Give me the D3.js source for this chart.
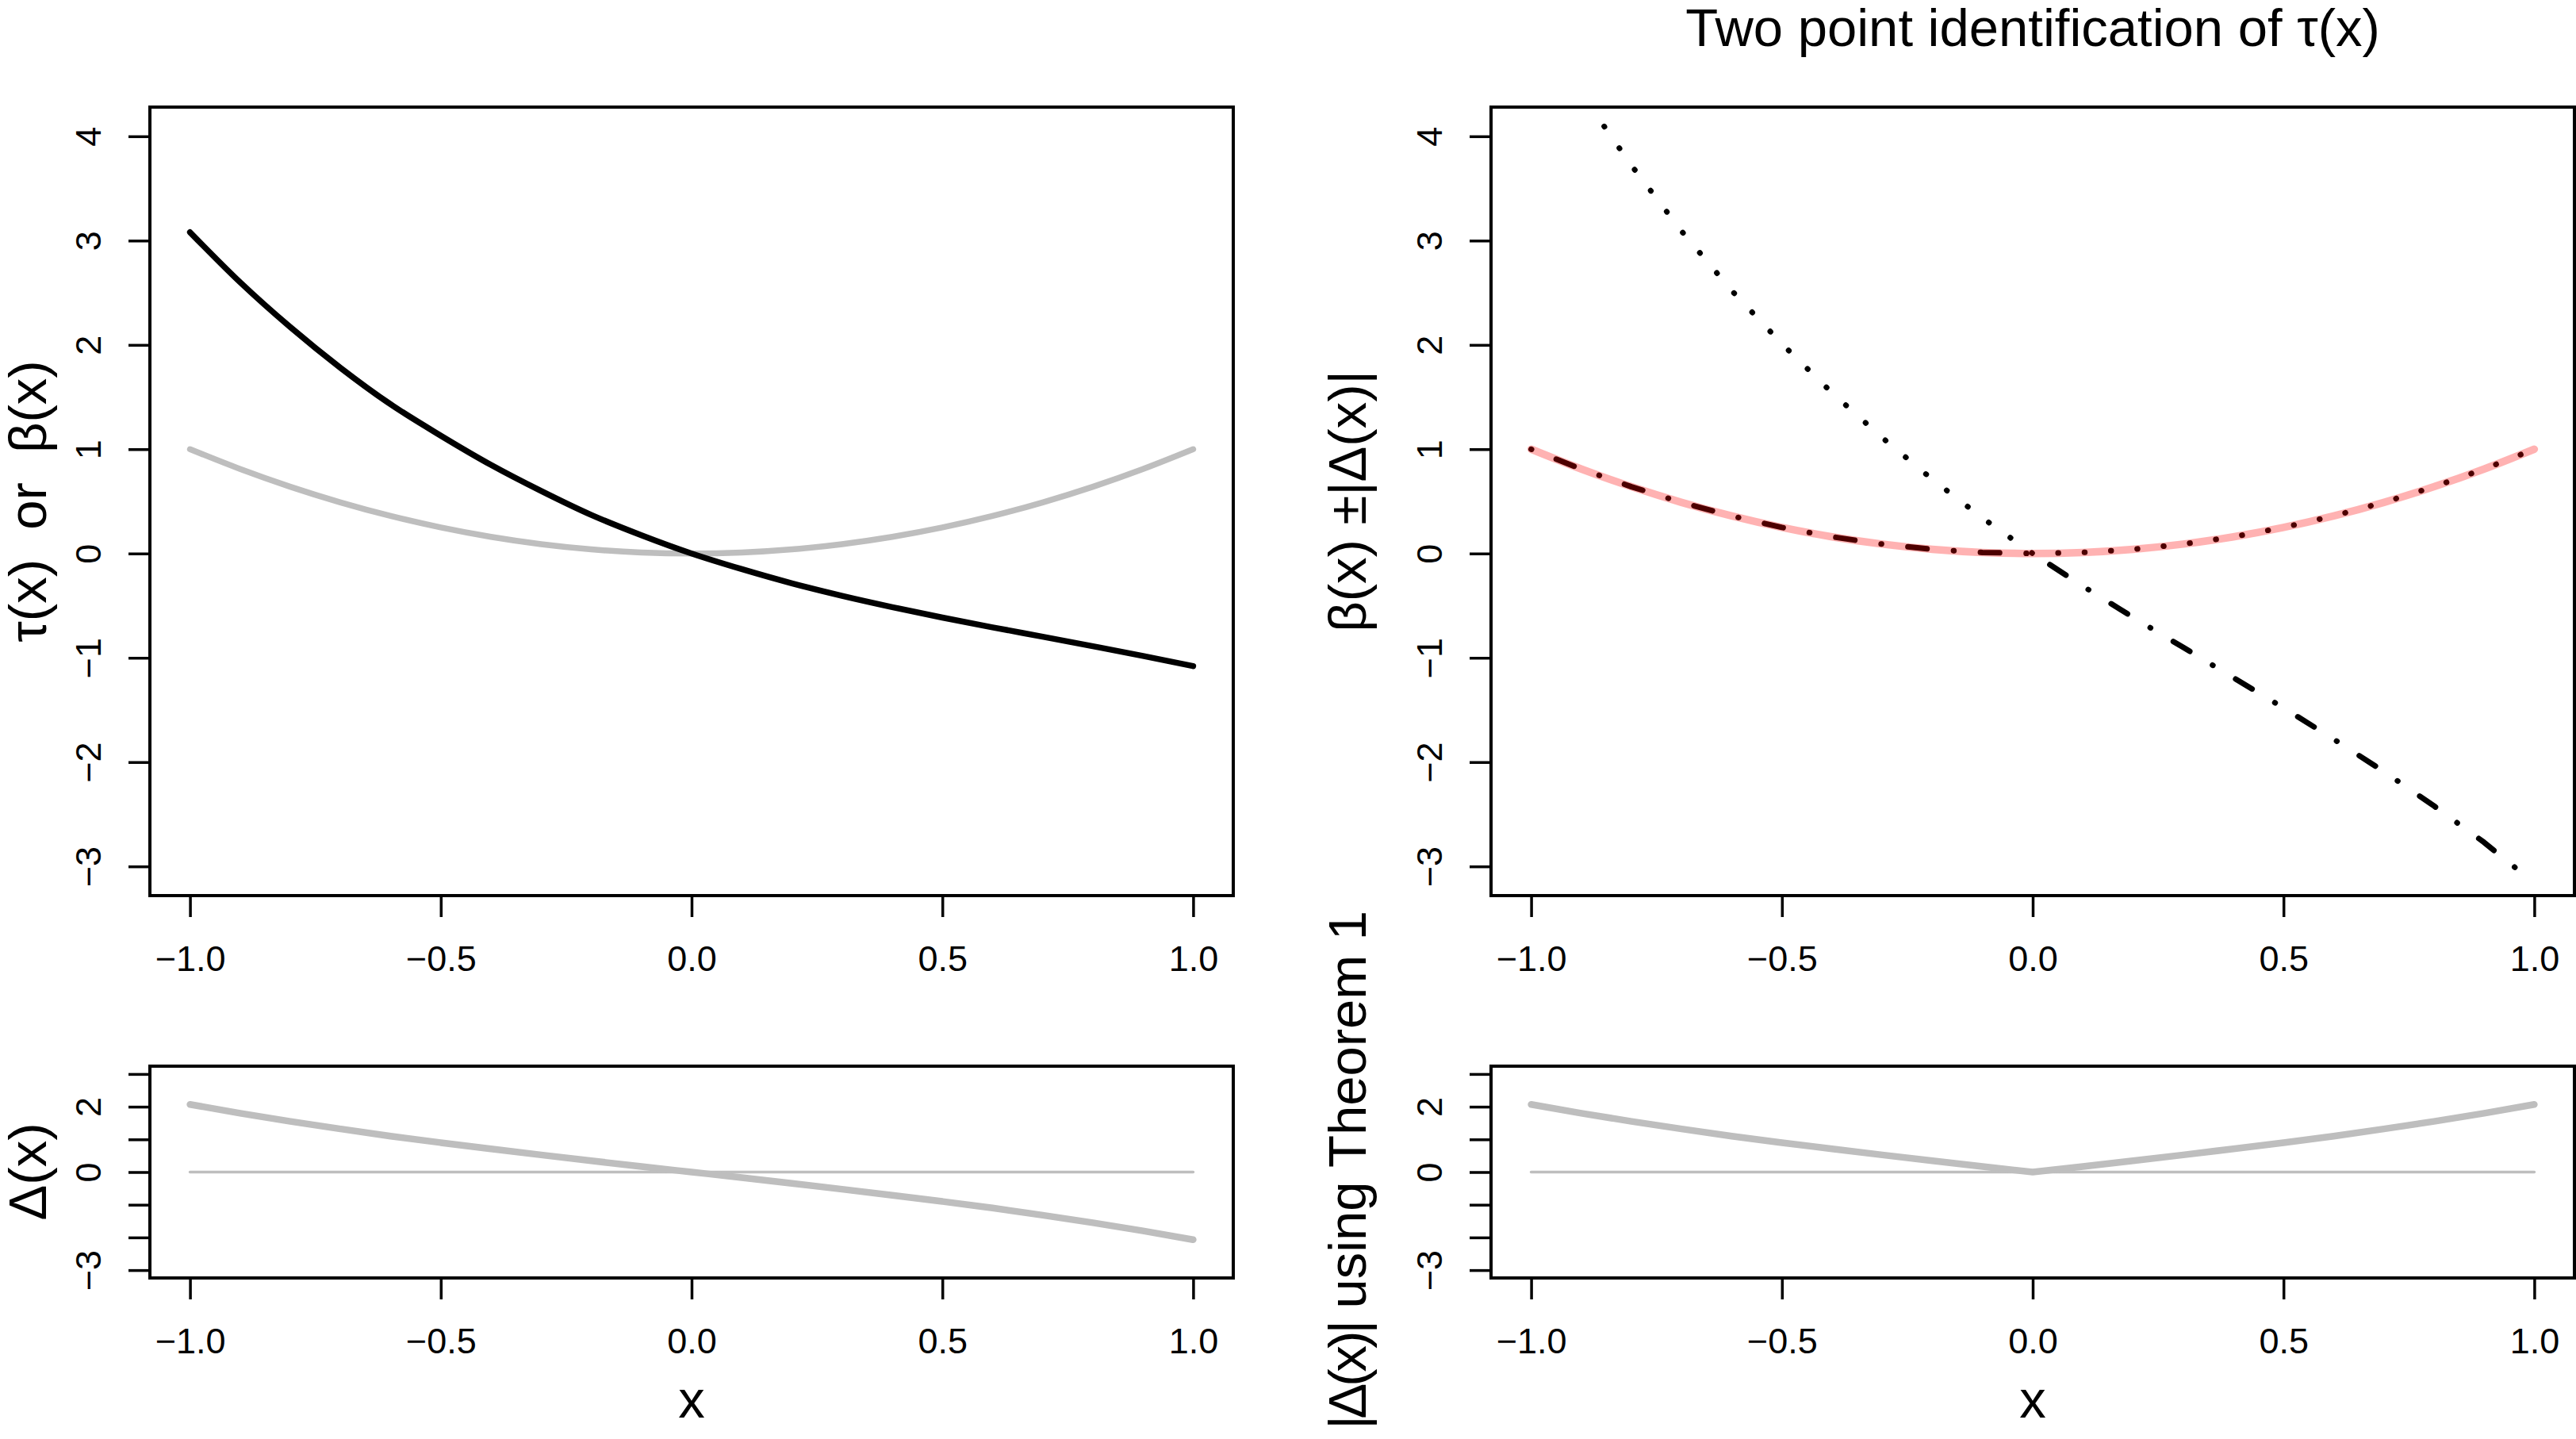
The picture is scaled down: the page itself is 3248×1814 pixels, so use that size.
<!DOCTYPE html>
<html>
<head>
<meta charset="utf-8">
<script src="https://cdn.jsdelivr.net/npm/d3@7"></script>
<style>
  body { margin: 0; background: #fff; }
  svg { display: block; }
  text { font-family: "Liberation Sans", Arial, Helvetica, sans-serif; fill: #000; }
  .lab { white-space: pre; }
</style>
</head>
<body>
<svg id="chart" width="3248" height="1814"></svg>
<script>
// grid of x values the curves were read at
var xs = [-1, -0.9, -0.8, -0.7, -0.6, -0.5, -0.4, -0.3, -0.2, -0.1, 0,
          0.1, 0.2, 0.3, 0.4, 0.5, 0.6, 0.7, 0.8, 0.9, 1];

// top left: tau(x) (black) and beta(x) (grey)
var tauVals = [3.08, 2.60, 2.17, 1.78, 1.43, 1.13, 0.85, 0.60, 0.37, 0.175, 0,
               -0.15, -0.286, -0.406, -0.514, -0.614, -0.708, -0.798, -0.889, -0.982, -1.08];
var betaVals = [1, 0.81, 0.64, 0.49, 0.36, 0.25, 0.16, 0.09, 0.04, 0.01, 0,
                0.01, 0.04, 0.09, 0.16, 0.25, 0.36, 0.49, 0.64, 0.81, 1];

// top right: beta(x) +/- |Delta(x)|
var upperVals = [5.16, 4.41, 3.72, 3.09, 2.52, 2.01, 1.54, 1.11, 0.71, 0.34, 0,
                 0.01, 0.04, 0.09, 0.16, 0.25, 0.36, 0.49, 0.64, 0.81, 1];
var lowerVals = [1, 0.81, 0.64, 0.49, 0.36, 0.25, 0.16, 0.09, 0.04, 0.01, 0,
                 -0.313, -0.612, -0.90, -1.19, -1.48, -1.78, -2.09, -2.42, -2.77, -3.16];

// bottom panels
var deltaVals = [2.07, 1.80, 1.55, 1.32, 1.10, 0.90, 0.71, 0.525, 0.345, 0.17, 0,
                 -0.17, -0.345, -0.525, -0.71, -0.90, -1.10, -1.32, -1.55, -1.80, -2.07];
var absDeltaVals = [2.07, 1.80, 1.55, 1.32, 1.10, 0.90, 0.71, 0.525, 0.345, 0.17, 0,
                    0.17, 0.345, 0.525, 0.71, 0.90, 1.10, 1.32, 1.55, 1.80, 2.07];
var zeroVals = [0, 0, 0, 0, 0, 0, 0, 0, 0, 0, 0, 0, 0, 0, 0, 0, 0, 0, 0, 0, 0];

// ticks
var xTicks = [-1, -0.5, 0, 0.5, 1];
var yTicksTop = [-3, -2, -1, 0, 1, 2, 3, 4];
var yTicksBottom = [-3, -2, -1, 0, 1, 2, 3];
var yLabelsBottom = [-3, 0, 2];

var GREY = '#bebebe';
var PINK = 'rgba(255,0,0,0.3)';
var TICK_FONT = 45;
var LAB_FONT = 67;

var svg = d3.select('#chart');
svg.append('rect').attr('width', 3248).attr('height', 1814).attr('fill', '#fff');

var minus = function(s) { return s.replace('-', '\u2212'); };

//build one panel, returns scales and the group
function makePanel(id, left, top, right, bottom, yDomain, yTicks, yLabels) {
    var x = d3.scaleLinear().domain([-1.08, 1.08]).range([left, right]);
    var y = d3.scaleLinear().domain(yDomain).range([bottom, top]);

    svg.append('clipPath').attr('id', 'clip-' + id)
        .append('rect')
        .attr('x', left).attr('y', top)
        .attr('width', right - left).attr('height', bottom - top);

    var g = svg.append('g');

    // x axis
    var xa = g.append('g')
        .attr('transform', 'translate(0,' + bottom + ')')
        .call(d3.axisBottom(x).tickValues(xTicks).tickSize(27)
            .tickFormat(function(d) { return minus(d3.format('.1f')(d)); }));
    xa.select('.domain').remove();
    xa.selectAll('line').attr('stroke', '#000').attr('stroke-width', 3.5);
    xa.selectAll('text')
        .attr('y', 95).attr('dy', 0)
        .style('font-size', TICK_FONT + 'px')
        .style('font-family', '"Liberation Sans", Arial, sans-serif');

    // y axis, labels rotated like R's las=0
    var ya = g.append('g')
        .attr('transform', 'translate(' + left + ',0)')
        .call(d3.axisLeft(y).tickValues(yTicks).tickSize(27)
            .tickFormat(function(d) {
                return yLabels.indexOf(d) >= 0 ? minus(String(d)) : '';
            }));
    ya.select('.domain').remove();
    ya.selectAll('line').attr('stroke', '#000').attr('stroke-width', 3.5);
    ya.selectAll('text')
        .attr('x', 0).attr('dy', 0)
        .attr('text-anchor', 'middle')
        .attr('transform', 'translate(-62,0) rotate(-90)')
        .style('font-size', TICK_FONT + 'px')
        .style('font-family', '"Liberation Sans", Arial, sans-serif');

    var plot = g.append('g').attr('clip-path', 'url(#clip-' + id + ')');

    return { x: x, y: y, g: g, plot: plot, box: [left, top, right, bottom] };
}

function drawBox(p) {
    p.g.append('rect')
        .attr('x', p.box[0]).attr('y', p.box[1])
        .attr('width', p.box[2] - p.box[0]).attr('height', p.box[3] - p.box[1])
        .attr('fill', 'none').attr('stroke', '#000').attr('stroke-width', 4);
}

function addLine(p, vals, opts) {
    var line = d3.line()
        .x(function(d, i) { return p.x(xs[i]); })
        .y(function(d) { return p.y(d); })
        .curve(opts.curve || d3.curveLinear);
    return p.plot.append('path')
        .attr('d', line(vals))
        .attr('fill', 'none')
        .attr('stroke', opts.color)
        .attr('stroke-width', opts.width)
        .attr('stroke-linecap', 'round')
        .attr('stroke-linejoin', 'round')
        .attr('stroke-dasharray', opts.dash || null);
}

// shift a dash pattern so that a dot lands near the given data point
function phaseDot(path, p, xv, yv, period) {
    var node = path.node();
    var total = node.getTotalLength();
    var tx = p.x(xv), ty = p.y(yv);
    var best = 0, bestD = Infinity;
    for (var s = 0; s <= total; s += 0.5) {
        var pt = node.getPointAtLength(s);
        var d = (pt.x - tx) * (pt.x - tx) + (pt.y - ty) * (pt.y - ty);
        if (d < bestD) { bestD = d; best = s; }
    }
    var off = ((0.25 - best) % period + period) % period;
    path.attr('stroke-dashoffset', off);
}

function yLabel(text, x, y, anchor) {
    return svg.append('text')
        .attr('class', 'lab')
        .attr('transform', 'translate(' + x + ',' + y + ') rotate(-90)')
        .attr('text-anchor', anchor || 'middle')
        .style('font-size', LAB_FONT + 'px')
        .text(text);
}

var SHIFT = 1691;

// top left
var tl = makePanel('tl', 189, 135, 1555, 1129, [-3.28, 4.28], yTicksTop, yTicksTop);
addLine(tl, betaVals, { color: GREY, width: 7.5, curve: d3.curveMonotoneX });
addLine(tl, tauVals, { color: '#000', width: 7.5, curve: d3.curveMonotoneX });
drawBox(tl);
yLabel('\u03c4(x)  or  \u03b2(x)', 58, 632);

// top right
var tr = makePanel('tr', 189 + SHIFT, 135, 1555 + SHIFT, 1129, [-3.28, 4.28], yTicksTop, yTicksTop);
var dotted = addLine(tr, upperVals, { color: '#000', width: 7, dash: '0.5 32.8' });
phaseDot(dotted, tr, -0.451, 1.76, 33.3);
addLine(tr, lowerVals, { color: '#000', width: 7, dash: '0.5 33.5 24.2 33.5' });
addLine(tr, betaVals, { color: PINK, width: 9.5, curve: d3.curveMonotoneX });
drawBox(tr);
yLabel('\u03b2(x) \u00b1|\u0394(x)|', 1722, 632);

svg.append('text')
    .attr('x', (189 + 1555) / 2 + SHIFT).attr('y', 58)
    .attr('text-anchor', 'middle')
    .style('font-size', LAB_FONT + 'px')
    .text('Two point identification of \u03c4(x)');

// bottom left
var bl = makePanel('bl', 189, 1344, 1555, 1611, [-3.24, 3.24], yTicksBottom, yLabelsBottom);
addLine(bl, zeroVals, { color: GREY, width: 3.5 });
addLine(bl, deltaVals, { color: GREY, width: 8.5, curve: d3.curveMonotoneX });
drawBox(bl);
yLabel('\u0394(x)', 58, 1477);

// bottom right
var br = makePanel('br', 189 + SHIFT, 1344, 1555 + SHIFT, 1611, [-3.24, 3.24], yTicksBottom, yLabelsBottom);
addLine(br, zeroVals, { color: GREY, width: 3.5 });
addLine(br, absDeltaVals, { color: GREY, width: 8.5 });
drawBox(br);
var brLab = yLabel('', 1722, 1148, 'end');
brLab.append('tspan').style('letter-spacing', '-4px').text('|\u0394(x)|');
brLab.append('tspan').text(' using Theorem 1');

// x axis titles
[bl, br].forEach(function(p) {
    svg.append('text')
        .attr('x', (p.box[0] + p.box[2]) / 2).attr('y', 1787)
        .attr('text-anchor', 'middle')
        .style('font-size', LAB_FONT + 'px')
        .text('x');
});
</script>
</body>
</html>
